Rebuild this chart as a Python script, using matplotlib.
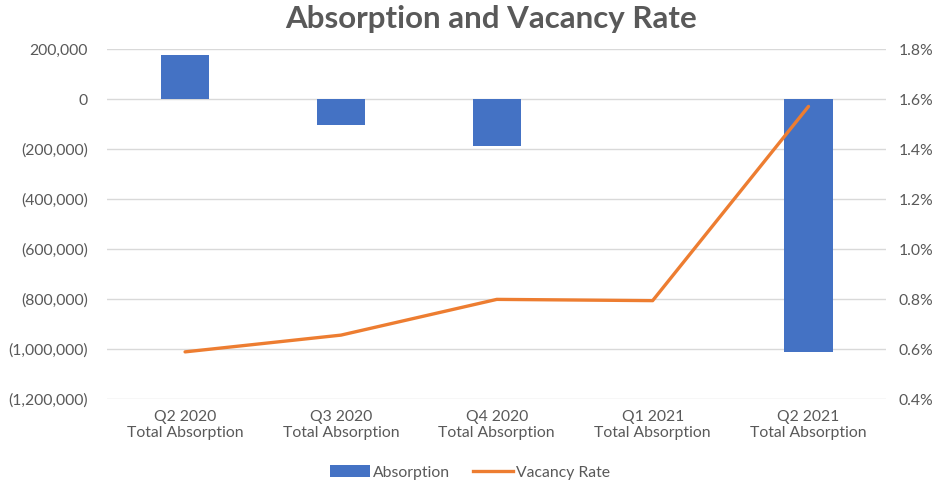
import matplotlib
matplotlib.use("Agg")
import matplotlib.pyplot as plt
from matplotlib.ticker import FuncFormatter, MultipleLocator
from matplotlib.patches import Patch
from matplotlib.lines import Line2D

quarters = ["Q2 2020", "Q3 2020", "Q4 2020", "Q1 2021", "Q2 2021"]
absorption = [176000, -103000, -187000, 0, -1011000]
vacancy_rate = [0.59, 0.657, 0.80, 0.795, 1.572]  # percent

BLUE = "#4472C4"
ORANGE = "#ED7D31"
GRAY = "#595959"
GRID = "#D9D9D9"

plt.rcParams["font.family"] = ["Lato", "DejaVu Sans"]

fig = plt.figure(figsize=(9.4, 4.8), dpi=100)
ax = fig.add_axes([0.114, 0.168, 0.829, 0.729])
ax2 = ax.twinx()

x = list(range(len(quarters)))
ax.bar(x, absorption, width=0.31, color=BLUE, zorder=2)
ax2.plot(x, vacancy_rate, color=ORANGE, lw=2.4, solid_capstyle="round",
         solid_joinstyle="round", zorder=3)

ax.set_xlim(-0.5, len(quarters) - 0.5)
ax.set_ylim(-1200000, 200000)
ax.yaxis.set_major_locator(MultipleLocator(200000))
ax2.set_ylim(0.4, 1.8)
ax2.yaxis.set_major_locator(MultipleLocator(0.2))


def acct(v, _):
    if abs(v) < 0.5:
        return "0"
    s = f"{abs(v):,.0f}"
    return f"({s})" if v < 0 else s


ax.yaxis.set_major_formatter(FuncFormatter(acct))
ax2.yaxis.set_major_formatter(FuncFormatter(lambda v, _: f"{v:.1f}%"))

ax.set_xticks(x)
ax.set_xticklabels([f"{q}\nTotal Absorption" for q in quarters],
                   linespacing=1.1)

ax.grid(axis="y", color=GRID, lw=1.0, zorder=0)
ax.set_axisbelow(True)
for a in (ax, ax2):
    for s in a.spines.values():
        s.set_visible(False)
    a.tick_params(length=0, colors=GRAY, labelsize=11.3)
ax.tick_params(axis="y", pad=14)
ax2.tick_params(axis="y", pad=9)
ax.tick_params(axis="x", pad=8)

fig.suptitle("Absorption and Vacancy Rate", x=0.522, y=0.99, fontsize=22.5,
             fontweight="bold", color=GRAY)

handles = [Patch(facecolor=BLUE, edgecolor="none"),
           Line2D([0], [0], color=ORANGE, lw=2.4)]
fig.legend(handles, ["Absorption", "Vacancy Rate"], loc="center",
           bbox_to_anchor=(0.5, 0.016), ncol=2, frameon=False,
           fontsize=11.3, labelcolor=GRAY, handlelength=2.55,
           handleheight=0.8, handletextpad=0.15, columnspacing=1.5)

fig.savefig("out.png", dpi=100)
